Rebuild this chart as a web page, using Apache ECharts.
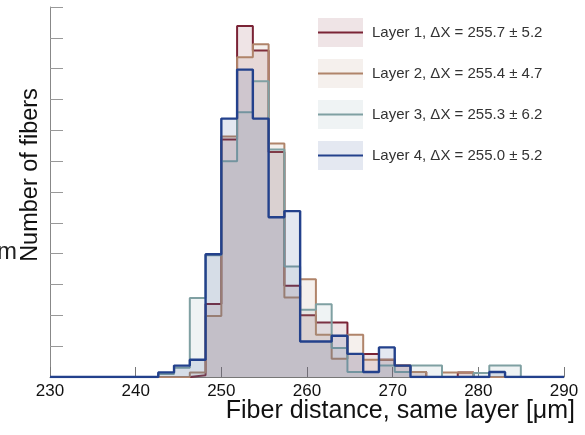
<!DOCTYPE html>
<html>
<head>
<meta charset="utf-8">
<script src="https://cdn.jsdelivr.net/npm/echarts@6/dist/echarts.min.js"></script>
<style>
  html, body { margin: 0; padding: 0; background: #fff; }
  #chart { width: 585px; height: 435px; }
</style>
</head>
<body>
<div id="chart"></div>
<script>
// bin edges of the fiber-distance histogram (µm)
const binEdges = [240.80, 242.64, 244.48, 246.32, 248.16, 250.00, 251.84, 253.68, 255.52, 257.36,
  259.20, 261.04, 262.88, 264.72, 266.56, 268.40, 270.24, 272.08, 273.92, 275.76,
  277.60, 279.44, 281.28, 283.12, 284.96, 286.80];

// entries per bin (arbitrary units, 10 per y tick)
const layer1 = [0, 0, 0, 0.6, 23.7, 77.0, 113.8, 105.9, 73.0, 29.6, 20.0, 17.7, 17.7, 7.5, 7.5, 5.6, 3.7, 1.6, 0, 0, 1.5, 0, 0, 0, 0];
const layer2 = [0, 0, 0, 1.5, 19.8, 78.0, 103.7, 107.9, 75.7, 25.8, 31.7, 13.7, 5.9, 13.7, 5.6, 5.6, 3.7, 1.6, 0, 1.5, 1.5, 0, 0, 0, 0];
const layer3 = [0, 1.0, 3.0, 25.6, 39.5, 70.0, 85.9, 95.9, 73.8, 35.8, 21.8, 23.6, 9.4, 1.6, 1.6, 3.7, 1.6, 3.7, 3.7, 0, 0, 1.3, 3.7, 3.7, 0];
const layer4 = [0, 1.5, 3.7, 5.6, 39.8, 83.8, 99.7, 83.8, 51.8, 53.8, 11.5, 11.5, 13.4, 7.5, 1.6, 9.6, 3.7, 0, 0, 0, 0, 0, 1.6, 0, 0];

const layerNames = ['Layer 1', 'Layer 2', 'Layer 3', 'Layer 4'];
const layerMeans = ['255.7', '255.4', '255.3', '255.0'];
const layerSigmas = ['5.2', '4.7', '6.2', '5.2'];
const layerColors = ['#7a2335', '#b0846a', '#7fa0a2', '#23418c'];
const layerFills = ['rgba(122,35,53,0.12)', 'rgba(176,132,106,0.12)', 'rgba(127,160,162,0.12)', 'rgba(35,65,140,0.12)'];

const xMin = 230, xMax = 290, xStep = 10;
const yMin = 0, yMax = 120, yStep = 10;
const xTitle = 'Fiber distance, same layer [\u03bcm]';
const yTitle = 'Number of fibers';

const font = 'Liberation Sans, Arial, sans-serif';
const chart = echarts.init(document.getElementById('chart'));

function stepData(counts) {
  const pts = [[xMin, 0]];
  counts.forEach((c, i) => pts.push([binEdges[i], c]));
  pts.push([binEdges[counts.length], 0]);
  pts.push([xMax, 0]);
  return pts;
}

const layers = [layer1, layer2, layer3, layer4];
const labels = layerNames.map((n, i) => n + ', \u0394X = ' + layerMeans[i] + ' \u00b1 ' + layerSigmas[i]);

const series = layers.map((counts, i) => ({
  name: labels[i],
  type: 'line',
  step: 'end',
  symbol: 'none',
  silent: true,
  z: 2 + i,
  data: stepData(counts),
  lineStyle: { color: layerColors[i], width: i === 3 ? 2.4 : 2 },
  itemStyle: { color: layerColors[i] },
  areaStyle: { color: layerColors[i], opacity: 0.12 }
}));

// legend sample lines drawn over the legend boxes
const legendLeft = 318, legendTop = 18, boxW = 45, boxH = 29, rowGap = 12;
const legendLines = layerColors.map((c, i) => ({
  type: 'line',
  z: 100,
  shape: {
    x1: legendLeft, y1: legendTop + boxH / 2 + i * (boxH + rowGap),
    x2: legendLeft + boxW, y2: legendTop + boxH / 2 + i * (boxH + rowGap)
  },
  style: { stroke: c, lineWidth: 2 }
}));

const titles = [
  {
    type: 'text', z: 100,
    x: 575, y: 411,
    style: { text: xTitle, fontSize: 25, fill: '#111', fontFamily: font, align: 'right', verticalAlign: 'middle' }
  },
  {
    type: 'text', z: 100,
    x: 31, y: 175, rotation: Math.PI / 2,
    style: { text: yTitle, fontSize: 23.5, fill: '#111', fontFamily: font, align: 'center', verticalAlign: 'middle' }
  },
  {
    // cut-off unit of a neighbouring axis title
    type: 'text', z: 100,
    x: 17, y: 252,
    style: { text: '\u03bcm', fontSize: 24, fill: '#222', fontFamily: font, align: 'right', verticalAlign: 'middle' }
  }
];

chart.setOption({
  animation: false,
  textStyle: { fontFamily: font },
  grid: { left: 50, right: 21, top: 7, bottom: 58, outerBoundsMode: 'none', containLabel: false },
  legend: {
    orient: 'vertical',
    left: legendLeft,
    top: legendTop,
    padding: 0,
    itemWidth: boxW,
    itemHeight: boxH,
    itemGap: rowGap,
    icon: 'rect',
    selectedMode: false,
    textStyle: { fontSize: 15, color: '#333', padding: [0, 0, 0, 4] },
    data: labels.map((l, i) => ({ name: l, itemStyle: { color: layerFills[i], borderWidth: 0 } }))
  },
  xAxis: {
    type: 'value',
    min: xMin,
    max: xMax,
    interval: xStep,
    axisLine: { lineStyle: { color: '#777', width: 1 } },
    axisTick: { inside: true, length: 10, lineStyle: { color: '#777' } },
    axisLabel: { fontSize: 17, color: '#111', margin: 6 },
    splitLine: { show: false }
  },
  yAxis: {
    type: 'value',
    min: yMin,
    max: yMax,
    interval: yStep,
    axisLine: { show: true, lineStyle: { color: '#888', width: 1 } },
    axisTick: { inside: true, length: 13, lineStyle: { color: '#999' } },
    axisLabel: { show: false },
    splitLine: { show: false }
  },
  graphic: legendLines.concat(titles),
  series: series
});
</script>
</body>
</html>
